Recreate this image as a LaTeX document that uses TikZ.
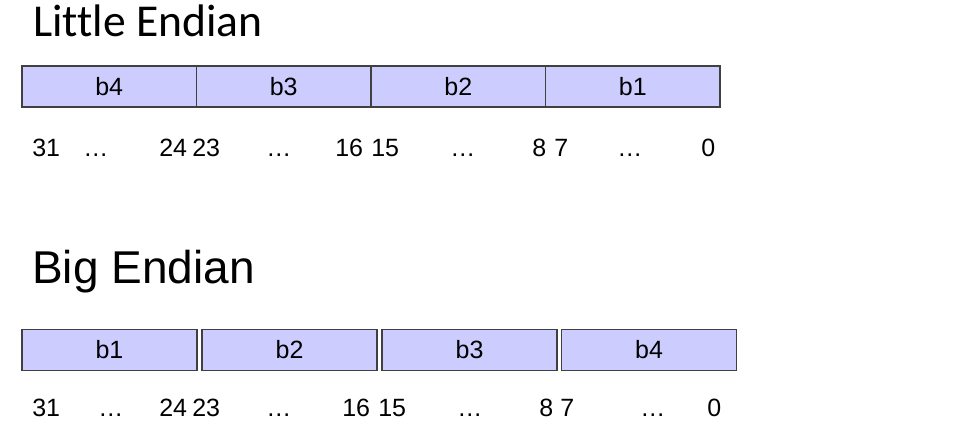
\documentclass[tikz,border=0pt]{standalone}
\usepackage{fontspec}
\setmainfont{Liberation Sans}
\newfontfamily\calfont[Ligatures=NoCommon]{Carlito}
\definecolor{bytefill}{HTML}{CCCCFF}
\definecolor{byteline}{HTML}{404040}
\begin{document}
\begin{tikzpicture}[x=0.75pt,y=-0.75pt,
    byte/.style={draw=byteline,fill=bytefill,line width=1pt,inner sep=0pt,
                 minimum height=30.75pt,font=\fontsize{18.75}{22}\selectfont},
    bitnum/.style={anchor=base west,inner sep=0pt,font=\fontsize{18.75}{22}\selectfont},
    heading/.style={anchor=base west,inner sep=0pt}]
\useasboundingbox (0,0) rectangle (953,447);
% little endian
   \node[heading,font=\calfont\fontsize{34.2}{40}\selectfont] (little) at (33,36) {Little Endian};
   \node[byte,minimum width=130.875pt] (l4) at (109.25,86.5) {b4};
   \node[byte,minimum width=130.875pt] (l3) at (283.75,86.5) {b3};
   \node[byte,minimum width=130.875pt] (l2) at (458.25,86.5) {b2};
   \node[byte,minimum width=130.875pt] (l1) at (632.75,86.5) {b1};
   \node[bitnum] (lb31) at (32,156) {31};
   \node[bitnum] (ld4) at (83,156) {…};
   \node[bitnum] (lb24) at (159,156) {24};
   \node[bitnum] (lb23) at (192,156) {23};
   \node[bitnum] (ld3) at (266,156) {…};
   \node[bitnum] (lb16) at (335,156) {16};
   \node[bitnum] (lb15) at (371,156) {15};
   \node[bitnum] (ld2) at (450,156) {…};
   \node[bitnum] (lb8) at (532,156) {8};
   \node[bitnum] (lb7) at (554,156) {7};
   \node[bitnum] (ld1) at (617,156) {…};
   \node[bitnum] (lb0) at (701,156) {0};
% big endian
   \node[heading,font=\fontsize{34.5}{40}\selectfont] (big) at (32,283) {Big Endian};
   \node[byte,minimum width=131.25pt] (g1) at (109.5,350) {b1};
   \node[byte,minimum width=131.25pt] (g2) at (289.5,350) {b2};
   \node[byte,minimum width=131.25pt] (g3) at (469.5,350) {b3};
   \node[byte,minimum width=131.25pt] (g4) at (649,350) {b4};
   \node[bitnum] (gb31) at (32,416) {31};
   \node[bitnum] (gd1) at (98,416) {…};
   \node[bitnum] (gb24) at (159,416) {24};
   \node[bitnum] (gb23) at (192,416) {23};
   \node[bitnum] (gd2) at (266,416) {…};
   \node[bitnum] (gb16) at (342,416) {16};
   \node[bitnum] (gb15) at (378,416) {15};
   \node[bitnum] (gd3) at (457,416) {…};
   \node[bitnum] (gb8) at (539,416) {8};
   \node[bitnum] (gb7) at (560,416) {7};
   \node[bitnum] (gd4) at (640,416) {…};
   \node[bitnum] (gb0) at (707,416) {0};
\end{tikzpicture}
\end{document}
